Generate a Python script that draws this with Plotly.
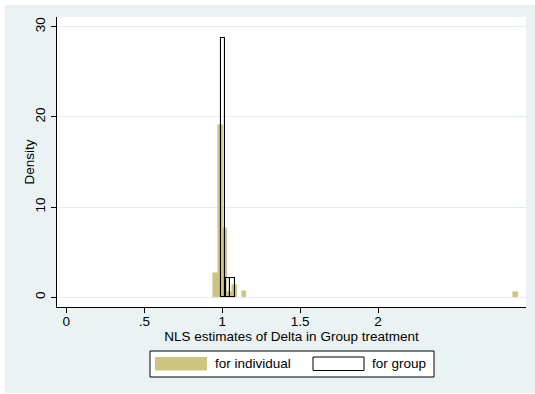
import plotly.graph_objects as go

# ---- data ----
ind_bin_width = 0.0305
ind_centers = [0.957, 0.988, 1.018, 1.049, 1.079, 1.140, 2.879]
ind_density = [2.74, 19.1, 7.7, 0.63, 1.33, 0.67, 0.63]

grp_bin_width = 0.0315
grp_centers = [1.005, 1.037, 1.068]
grp_density = [28.8, 2.19, 2.19]

x_ticks = [0, 0.5, 1, 1.5, 2]
x_ticklabels = ["0", ".5", "1", "1.5", "2"]
y_ticks = [0, 10, 20, 30]
y_ticklabels = ["0", "10", "20", "30"]

series_names = ["for individual", "for group"]

KHAKI = "#cec482"
BG = "#eaf2f3"
GRID = "#e4ecee"
FONT = "Liberation Sans, Arial, Helvetica, sans-serif"
FS = 13.5

fig = go.Figure()
fig.add_trace(go.Bar(
    x=ind_centers, y=ind_density, width=ind_bin_width,
    marker=dict(color=KHAKI, line=dict(color="#c6bb78", width=0.5)),
    name=series_names[0], showlegend=False,
))
fig.add_trace(go.Bar(
    x=grp_centers, y=grp_density, width=grp_bin_width,
    marker=dict(color="rgba(0,0,0,0)", line=dict(color="black", width=1.1)),
    name=series_names[1], showlegend=False,
))

W, H = 535, 394
L, R, T, B = 57, 9, 17, 87
pw, ph = W - L - R, H - T - B


def px_x(p):
    return (p - L) / pw


def px_y(p):
    return (H - B - p) / ph


shapes = [
    # white outer margin strips (left/top/bottom)
    dict(type="rect", xref="paper", yref="paper", x0=px_x(0), x1=px_x(5),
         y0=px_y(H), y1=px_y(0), fillcolor="white", line=dict(width=0), layer="below"),
    dict(type="rect", xref="paper", yref="paper", x0=px_x(0), x1=px_x(W),
         y0=px_y(5), y1=px_y(0), fillcolor="white", line=dict(width=0), layer="below"),
    dict(type="rect", xref="paper", yref="paper", x0=px_x(0), x1=px_x(W),
         y0=px_y(H), y1=px_y(393), fillcolor="white", line=dict(width=0), layer="below"),
    # legend box
    dict(type="rect", xref="paper", yref="paper", x0=px_x(150), x1=px_x(434),
         y0=px_y(377), y1=px_y(351), fillcolor="white", line=dict(color="black", width=1)),
    # legend swatches
    dict(type="rect", xref="paper", yref="paper", x0=px_x(155), x1=px_x(207),
         y0=px_y(370.5), y1=px_y(357), fillcolor=KHAKI, line=dict(width=0)),
    dict(type="rect", xref="paper", yref="paper", x0=px_x(313), x1=px_x(364),
         y0=px_y(370.5), y1=px_y(357), fillcolor="white", line=dict(color="black", width=1)),
]

annotations = [
    dict(text=series_names[0], xref="paper", yref="paper", x=px_x(213), y=px_y(363.7),
         xanchor="left", yanchor="middle", showarrow=False,
         font=dict(family=FONT, size=FS, color="black")),
    dict(text=series_names[1], xref="paper", yref="paper", x=px_x(370), y=px_y(363.7),
         xanchor="left", yanchor="middle", showarrow=False,
         font=dict(family=FONT, size=FS, color="black")),
    dict(text="Density", xref="paper", yref="paper", x=px_x(28.5), y=0.5,
         xanchor="center", yanchor="middle", textangle=-90, showarrow=False,
         font=dict(family=FONT, size=FS, color="black")),
]

fig.update_layout(
    width=W, height=H,
    margin=dict(l=L, r=R, t=T, b=B, pad=0),
    paper_bgcolor=BG, plot_bgcolor="white",
    barmode="overlay", bargap=0,
    font=dict(family=FONT, size=FS, color="black"),
    shapes=shapes, annotations=annotations,
    showlegend=False,
)

fig.update_xaxes(
    range=[-0.0597, 2.9487],
    tickvals=x_ticks, ticktext=x_ticklabels,
    ticks="outside", ticklen=5, tickwidth=1, tickcolor="black",
    ticklabelstandoff=-3,
    showline=True, linecolor="black", linewidth=1,
    showgrid=False, zeroline=False,
    tickfont=dict(size=FS),
    title=dict(text="NLS estimates of Delta in Group treatment", standoff=0,
               font=dict(size=FS)),
)
fig.update_yaxes(
    range=[-1.075, 31.08],
    tickvals=y_ticks, ticktext=y_ticklabels,
    tickangle=-90,
    ticks="outside", ticklen=5, tickwidth=1, tickcolor="black",
    ticklabelstandoff=1,
    showline=True, linecolor="black", linewidth=1,
    showgrid=True, gridcolor=GRID, gridwidth=1,
    zeroline=False,
    tickfont=dict(size=FS),
)

fig.write_html(
    "out.html",
    config={"displayModeBar": False},
    post_script="document.body.style.margin='0';document.body.style.overflow='hidden';",
)
